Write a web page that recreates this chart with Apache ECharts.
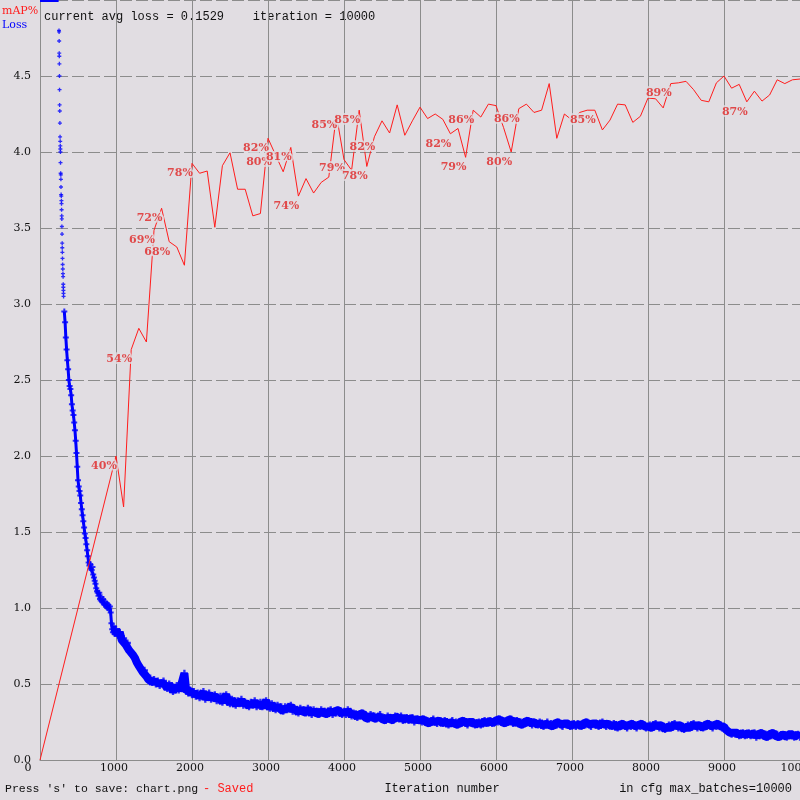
<!DOCTYPE html>
<html><head><meta charset="utf-8">
<script src="https://cdn.jsdelivr.net/npm/echarts@6/dist/echarts.min.js"></script>
<style>html,body{margin:0;padding:0;background:#e1dde2;}#c{width:800px;height:800px;}</style>
</head><body><div id="c"></div>
<script>
// ---- axis ticks ----
const xTickStep = 1000;
const yTickStep = 0.5;

// ---- mAP% (evaluated every 100 iterations from 1000) ----
const mapIterStart = 1000;
const mapIterStep = 100;
const mapVals = [
 40.0,33.3,54.0,56.8,55.0,69.7,72.6,68.2,67.5,65.1,
 78.5,77.2,77.5,70.1,78.2,79.9,75.1,75.1,71.6,71.9,
 81.8,79.6,77.4,80.6,74.2,76.5,74.6,76.0,76.7,84.9,
 79.0,77.6,85.5,78.1,82.0,84.1,82.5,86.2,82.2,84.1,
 85.9,84.4,85.0,84.3,82.4,83.1,79.3,85.5,84.6,86.3,
 86.1,83.2,80.0,85.7,86.3,85.2,85.5,89.0,81.8,85.0,
 84.2,85.2,85.5,85.5,82.9,84.2,86.3,86.2,83.9,84.7,
 87.1,87.0,85.8,89.0,89.1,89.3,88.2,86.8,86.6,89.1,
 90.0,88.4,88.9,86.6,88.0,86.7,87.5,89.5,89.0,89.5,
 89.6];
const mapStart = [0, 0];

// ---- mAP labels ----
const labelIter = [1000,1200,1500,1600,1700,2000,3000,3040,3300,3400,3900,4000,4200,4300,4400,5400,5600,5700,6200,6300,7300,8300,9300];
const labelPct  = [40.0,54.0,69.7,72.6,68.2,78.5,81.8,80.0,80.6,74.2,84.9,79.2,85.5,78.1,82.0,82.4,79.3,85.5,80.0,85.7,85.5,89.0,86.6];
const labelText = ['40%','54%','69%','72%','68%','78%','82%','80%','81%','74%','85%','79%','85%','78%','82%','82%','79%','86%','80%','86%','85%','89%','87%'];

// ---- loss: clipped at top (>= 5) ----
const lossClipIter = [0, 245];
const lossClipVal = [5, 5];

// ---- loss: sparse early points ----
const lossSparseIter = [250,251,252,253,254,255,256,257,258,260,262,264,266,267,268,269,270,272,274,275,276,278,280,282,283,284,286,287,288,290,292,293,294,296,298,300,302,304,306,307,308,309,310];
const lossSparseVal = [4.80,4.79,4.73,4.65,4.63,4.58,4.50,4.41,4.31,4.27,4.19,4.10,4.07,4.04,4.02,4.00,3.93,3.86,3.85,3.82,3.77,3.72,3.71,3.68,3.66,3.62,3.58,3.56,3.51,3.46,3.40,3.37,3.34,3.30,3.26,3.23,3.20,3.18,3.13,3.11,3.09,3.07,3.05];

// ---- loss: dense early part (every 10 iterations from 320) ----
const lossDenseStart = 320;
const lossDenseStep = 10;
const lossDenseVal = [
 2.95,2.88,2.78,2.70,2.63,2.57,2.50,2.46,2.44,2.40,
 2.34,2.30,2.27,2.22,2.17,2.10,2.02,1.93,1.84,1.80,
 1.77,1.74,1.69,1.65,1.61,1.57,1.53,1.49,1.46,1.42,
 1.38,1.34,1.30,1.28,1.29,1.26,1.25,1.27,1.22,1.20,
 1.18,1.16,1.13,1.11,1.10,1.08,1.10,1.06,1.05,1.07,
 1.04,1.06,1.03,1.02,1.04,1.01,1.03,1.00,1.02,0.99,
 1.01,0.97,0.90,0.86,0.84,0.88,0.83,0.86];

// ---- loss: main part (every 25 iterations from 1000) ----
const lossMainStart = 1000;
const lossMainStep = 25;
const lossMainVal = [
 0.86,0.82,0.84,0.79,0.80,0.76,0.77,0.72,0.71,0.69,0.67,0.64,0.62,0.60,0.58,0.59,0.55,0.53,0.54,0.51,
 0.53,0.50,0.52,0.49,0.51,0.52,0.49,0.47,0.50,0.48,0.45,0.47,0.49,0.46,0.48,0.47,0.57,0.45,0.44,0.46,
 0.43,0.45,0.42,0.44,0.41,0.43,0.45,0.40,0.42,0.44,0.40,0.41,0.43,0.39,0.41,0.42,0.38,0.41,0.43,0.39,
 0.37,0.40,0.38,0.36,0.39,0.37,0.40,0.36,0.38,0.37,0.35,0.38,0.36,0.39,0.35,0.37,0.38,0.35,0.37,0.39,
 0.36,0.34,0.37,0.35,0.33,0.36,0.34,0.35,0.32,0.35,0.33,0.34,0.36,0.32,0.34,0.33,0.31,0.34,0.32,0.33,
 0.31,0.34,0.32,0.30,0.33,0.31,0.32,0.30,0.33,0.31,0.32,0.30,0.31,0.33,0.30,0.32,0.31,0.33,0.32,0.30,
 0.32,0.30,0.33,0.31,0.29,0.31,0.30,0.28,0.30,0.29,0.31,0.28,0.29,0.27,0.30,0.28,0.29,0.27,0.29,0.30,
 0.27,0.28,0.26,0.29,0.27,0.28,0.26,0.29,0.28,0.27,0.29,0.26,0.27,0.28,0.26,0.27,0.28,0.25,0.27,0.26,
 0.26,0.25,0.27,0.25,0.26,0.24,0.26,0.27,0.25,0.24,0.26,0.25,0.24,0.26,0.25,0.23,0.25,0.26,0.24,0.25,
 0.23,0.25,0.24,0.26,0.24,0.23,0.25,0.24,0.25,0.23,0.24,0.25,0.23,0.24,0.26,0.24,0.25,0.26,0.24,0.25,
 0.26,0.25,0.27,0.25,0.26,0.24,0.26,0.25,0.27,0.24,0.25,0.26,0.24,0.25,0.23,0.25,0.24,0.26,0.24,0.23,
 0.25,0.24,0.23,0.25,0.24,0.22,0.24,0.25,0.23,0.24,0.22,0.24,0.23,0.25,0.23,0.22,0.24,0.23,0.24,0.22,
 0.23,0.24,0.22,0.24,0.23,0.22,0.24,0.23,0.25,0.23,0.22,0.24,0.23,0.24,0.22,0.23,0.25,0.23,0.22,0.24,
 0.23,0.22,0.24,0.23,0.21,0.23,0.22,0.24,0.22,0.21,0.23,0.22,0.24,0.22,0.21,0.23,0.22,0.24,0.22,0.21,
 0.22,0.23,0.21,0.22,0.24,0.22,0.21,0.23,0.22,0.20,0.22,0.23,0.21,0.22,0.24,0.22,0.21,0.23,0.22,0.20,
 0.22,0.23,0.21,0.22,0.24,0.22,0.21,0.23,0.22,0.21,0.23,0.22,0.24,0.22,0.21,0.23,0.22,0.24,0.22,0.21,
 0.22,0.20,0.19,0.18,0.17,0.18,0.17,0.18,0.16,0.17,0.18,0.16,0.17,0.18,0.16,0.17,0.18,0.15,0.17,0.16,
 0.18,0.16,0.17,0.15,0.17,0.16,0.18,0.16,0.17,0.15,0.16,0.17,0.16,0.15,0.17,0.16,0.17,0.15,0.16,0.17,
 0.15];

// ---- texts ----
const topText = 'current avg loss = 0.1529    iteration = 10000';
const legendMap = 'mAP%';
const legendLoss = 'Loss';
const footLeft = "Press 's' to save: chart.png";
const footSaved = '- Saved';
const footMid = 'Iteration number';
const footRight = 'in cfg max_batches=10000';

// ================= build =================
const BG = '#e1dde2';
const GRID = '#8c8c8c';
const RED = '#ff1c1c';
const BLUE = '#0000ff';
const SERIF = 'DejaVu Serif';

const mapData = [mapStart].concat(mapVals.map((v, i) => [mapIterStart + i * mapIterStep, v]));
const lossClipData = lossClipIter.map((x, i) => [x, lossClipVal[i]]);
const lossSparseData = lossSparseIter.map((x, i) => [x, lossSparseVal[i]]);
const lossDenseData = lossDenseVal.map((v, i) => [lossDenseStart + i * lossDenseStep, v]);
const lossMainData = lossMainVal.map((v, i) => [lossMainStart + i * lossMainStep, v]);
const labelData = labelIter.map((x, i) => [x, labelPct[i]]);

const plus = 'path://M1,0H2V1H3V2H2V3H1V2H0V1H1Z';

const chart = echarts.init(document.getElementById('c'), null, {renderer: 'canvas'});
chart.setOption({
  backgroundColor: BG,
  animation: false,
  grid: {left: 40, top: 0, width: 760, height: 760, containLabel: false, outerBoundsMode: 'none'},
  xAxis: {
    type: 'value', min: 0, max: 10000, interval: xTickStep,
    axisLine: {show: true, lineStyle: {color: GRID, width: 1}},
    axisTick: {show: false},
    splitLine: {show: true, lineStyle: {color: GRID, width: 1, type: 'solid'}},
    axisLabel: {
      margin: 3, showMinLabel: true, showMaxLabel: true, hideOverlap: false,
      color: '#111', fontFamily: SERIF, fontSize: 11,
      formatter: v => v === 0 ? '{z|0}' : '{n|' + v + '}',
      rich: {
        z: {padding: [0, 24, 0, 0], color: '#111', fontFamily: SERIF, fontSize: 11},
        n: {padding: [0, 4, 0, 0], color: '#111', fontFamily: SERIF, fontSize: 11}
      }
    }
  },
  yAxis: [{
    type: 'value', min: 0, max: 5, interval: yTickStep,
    axisLine: {show: true, lineStyle: {color: GRID, width: 1}},
    axisTick: {show: false},
    splitLine: {show: true, lineStyle: {color: GRID, width: 1, type: [12, 4]}},
    axisLabel: {
      margin: 9, showMaxLabel: false, color: '#111', fontFamily: SERIF, fontSize: 11,
      formatter: v => v.toFixed(1)
    }
  }, {
    type: 'value', min: 0, max: 100, show: false
  }],
  series: [
    {type: 'line', data: lossClipData, showSymbol: false, lineStyle: {color: BLUE, width: 4}, z: 2, silent: true},
    {type: 'line', data: lossDenseData, showSymbol: false, lineStyle: {color: BLUE, width: 3}, z: 2, silent: true},
    {type: 'line', data: lossMainData, showSymbol: false, lineStyle: {color: BLUE, width: 8}, z: 2, silent: true},
    {type: 'scatter', data: lossDenseData, symbol: plus, symbolSize: 6, itemStyle: {color: BLUE}, z: 2, silent: true},
    {type: 'scatter', data: lossMainData, symbol: plus, symbolSize: 7, itemStyle: {color: BLUE}, z: 2, silent: true},
    {type: 'scatter', data: lossSparseData, symbol: plus, symbolSize: 4, itemStyle: {color: BLUE}, z: 2, silent: true},
    {type: 'line', yAxisIndex: 1, data: mapData, showSymbol: false, lineStyle: {color: RED, width: 1}, z: 3, silent: true},
    {type: 'scatter', yAxisIndex: 1, data: labelData, symbolSize: 1, itemStyle: {color: 'rgba(0,0,0,0)'}, z: 4, silent: true,
      label: {show: true, position: 'inside', offset: [-12, 10], formatter: p => labelText[p.dataIndex],
        color: '#e02424', fontFamily: SERIF, fontSize: 11, fontWeight: 'bold', textBorderColor: BG, textBorderWidth: 4}}
  ],
  graphic: [
    {type: 'text', x: 2, y: 11, style: {text: legendMap, fill: '#ff1c1c', font: '11px "DejaVu Serif"', verticalAlign: 'middle'}},
    {type: 'text', x: 2, y: 25, style: {text: legendLoss, fill: BLUE, font: '11px "DejaVu Serif"', verticalAlign: 'middle'}},
    {type: 'text', x: 44, y: 17, style: {text: topText, fill: '#111', font: '12px "Liberation Mono"', verticalAlign: 'middle'}},
    {type: 'text', x: 5, y: 789, style: {text: footLeft, fill: '#111', font: '11.5px "Liberation Mono"', verticalAlign: 'middle'}},
    {type: 'text', x: 203, y: 789, style: {text: footSaved, fill: '#ff1c1c', font: '12px "Liberation Mono"', verticalAlign: 'middle'}},
    {type: 'text', x: 442, y: 789, style: {text: footMid, fill: '#111', font: '12px "Liberation Mono"', align: 'center', verticalAlign: 'middle'}},
    {type: 'text', x: 792, y: 789, style: {text: footRight, fill: '#111', font: '12px "Liberation Mono"', align: 'right', verticalAlign: 'middle'}}
  ]
});
</script></body></html>
